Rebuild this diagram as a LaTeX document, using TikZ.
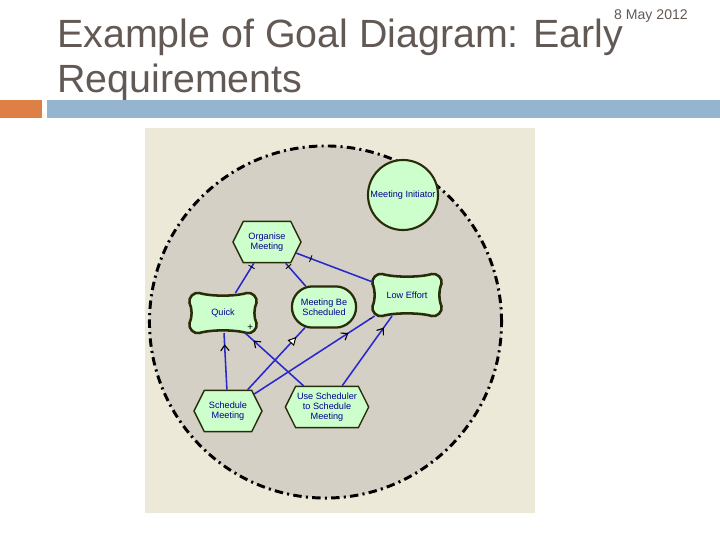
\documentclass[tikz,border=0pt]{standalone}
\usepackage{fontspec}
\setmainfont{Liberation Sans}
\usepackage{xcolor}
\usepackage{tikz}
\usetikzlibrary{arrows.meta,calc,shapes.geometric,shapes.misc,shapes.symbols,decorations.markings}

\definecolor{titlegray}{RGB}{99,89,84}
\definecolor{barorange}{RGB}{222,128,70}
\definecolor{barblue}{RGB}{148,180,208}
\definecolor{panelbeige}{RGB}{236,233,216}
\definecolor{actorgray}{RGB}{212,208,198}
\definecolor{goalgreen}{RGB}{204,255,204}
\definecolor{edgeolive}{RGB}{40,44,8}
\definecolor{labelnavy}{RGB}{0,0,140}
\definecolor{linkblue}{RGB}{40,40,205}

\pgfdeclarelayer{back}
\pgfdeclarelayer{mid}
\pgfsetlayers{back,mid,main}

\begin{document}
\begin{tikzpicture}[
		x=0.025cm, y=-0.025cm,
		font=\fontsize{6.5}{7.2}\selectfont,
		title/.style={
			font=\fontsize{28}{32}\selectfont, text=titlegray,
			inner sep=0pt, anchor=base west
		},
		datelbl/.style={
			font=\fontsize{10}{12}\selectfont, text=titlegray,
			inner sep=0pt, anchor=base east
		},
		boundary/.style={
			circle, minimum size=8.8cm, inner sep=0pt,
			draw=black, fill=actorgray, line width=2.1pt,
			dash pattern=on 6pt off 3pt on 1.5pt off 3pt
		},
		actor/.style={
			circle, minimum size=1.75cm, inner sep=0pt,
			draw=edgeolive, fill=goalgreen, line width=1.5pt,
			text=labelnavy
		},
		task/.style={
			signal, signal to=west and east, signal pointer angle=127,
			minimum width=1.7cm, minimum height=1.03cm, inner sep=1pt,
			draw=edgeolive, fill=goalgreen, line width=1pt,
			text=labelnavy, align=center
		},
		goal/.style={
			rounded rectangle, minimum width=1.675cm, minimum height=1.03cm,
			inner sep=1pt, draw=edgeolive, fill=goalgreen, line width=1.6pt,
			text=labelnavy, align=center
		},
		softgoal/.style={
			rectangle, inner sep=1pt, outer sep=0pt,
			text=labelnavy, align=center
		},
		pillow/.style={draw=edgeolive, fill=goalgreen, line width=1.8pt},
		link/.style={linkblue, line width=1.1pt},
		decomp/.style={link, postaction={decorate, decoration={markings,
			mark=at position #1 with {\draw[black, line width=0.6pt] (0,-2.5pt) -- (0,2.5pt);}}}},
		contrib/.style={link, postaction={decorate, decoration={markings,
			mark=at position #1 with {\arrow[black]{Straight Barb[length=4pt,width=6pt,line width=0.8pt]}}}}},
		meansend/.style={link, postaction={decorate, decoration={markings,
			mark=at position #1 with {\arrow[black]{Triangle[length=6pt,width=6pt,fill=white,line width=0.7pt]}}}}},
		lbl/.style={font=\fontsize{7}{8}\selectfont, text=black, inner sep=1pt}
		]
		\useasboundingbox (0,0) rectangle (720,540);
		
		% slide header
		\node[datelbl] (date) at (688,19) {8 May 2012};
		\node[title] (title) at (57,47) {Example of Goal Diagram: Early};
		\node[title] (title2) at (57,92) {Requirements};
		\fill[barorange] (0,100) rectangle (42,118);
		\fill[barblue] (47,100) rectangle (720,118);
		
		% actor boundary
		\begin{pgfonlayer}{back}
			\fill[white] (0,0) rectangle (720,540);
			\fill[panelbeige] (145,128) rectangle (535,513);
			\node[boundary] (initbound) at (325.5,322) {};
		\end{pgfonlayer}
		
		\node[actor] (initiator) at (403,195) {Meeting Initiator};
		\node[task] (organise) at (267,242) {Organise\\Meeting};
		\node[softgoal, minimum width=1.675cm, minimum height=1cm] (quick) at (223,313) {Quick};
		\node[goal] (scheduled) at (324,307) {Meeting Be\\Scheduled};
		\node[softgoal, minimum width=1.725cm, minimum height=1.05cm] (effort) at (407,295) {Low Effort};
		\node[task] (schedule) at (228,411) {Schedule\\Meeting};
		\node[task] (usesched) at (327,407) {Use Scheduler\\to Schedule\\Meeting};
		
		% softgoal outlines
		\begin{pgfonlayer}{mid}
			\foreach \n in {quick,effort}
			\draw[pillow] ([xshift=7pt]\n.north west)
			.. controls ([xshift=15pt,yshift=-2.5pt]\n.north west) and ([xshift=-15pt,yshift=-2.5pt]\n.north east) .. ([xshift=-7pt]\n.north east)
			.. controls ([xshift=-3pt,yshift=0.8pt]\n.north east) and ([xshift=0.8pt,yshift=-3pt]\n.north east) .. ([yshift=-7pt]\n.north east)
			.. controls ([xshift=-2pt,yshift=-11pt]\n.north east) and ([xshift=-2pt,yshift=11pt]\n.south east) .. ([yshift=7pt]\n.south east)
			.. controls ([xshift=0.8pt,yshift=3pt]\n.south east) and ([xshift=-3pt,yshift=-0.8pt]\n.south east) .. ([xshift=-7pt]\n.south east)
			.. controls ([xshift=-15pt,yshift=2.5pt]\n.south east) and ([xshift=15pt,yshift=2.5pt]\n.south west) .. ([xshift=7pt]\n.south west)
			.. controls ([xshift=3pt,yshift=-0.8pt]\n.south west) and ([xshift=-0.8pt,yshift=3pt]\n.south west) .. ([yshift=7pt]\n.south west)
			.. controls ([xshift=2pt,yshift=11pt]\n.south west) and ([xshift=2pt,yshift=-11pt]\n.north west) .. ([yshift=-7pt]\n.north west)
			.. controls ([xshift=-0.8pt,yshift=-3pt]\n.north west) and ([xshift=3pt,yshift=0.8pt]\n.north west) .. cycle;
		\end{pgfonlayer}
		
		\draw[decomp=-3pt] (quick) -- (organise);
		\draw[decomp=-3pt] (scheduled) -- (organise);
		\draw[decomp=-11pt] (effort) -- (organise);
		\draw[meansend=-9pt] (schedule) -- (scheduled);
		\draw[contrib=-22pt] (schedule) -- (effort) node[lbl, pos=1, below left] (minus) {-};
		\draw[contrib=-10pt] (usesched) -- (effort);
		\draw[contrib=-8pt] (usesched) -- (quick) node[lbl, pos=1, above right] (plus) {+};
		\draw[contrib=-8pt] (schedule) -- (quick);
\end{tikzpicture}
\end{document}
